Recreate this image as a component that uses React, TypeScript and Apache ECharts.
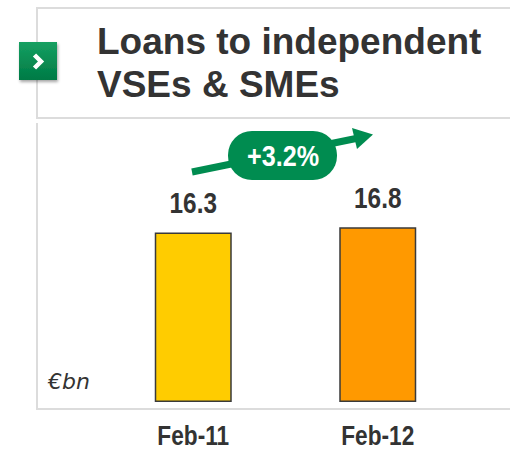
import React, { useEffect, useRef } from "react";
import * as echarts from "echarts";

const categories = ["Feb-11", "Feb-12"];
const loanValues = [16.3, 16.8];
const barColors = ["#FFCC00", "#FF9900"];
const growthLabel = "+3.2%";
const unitLabel = "€bn";
const titleLines = ["Loans to independent", "VSEs & SMEs"];

const SANS = "'Liberation Sans', Arial, sans-serif";
const NARROW_SCALE = 0.84;
const GREEN = "#008C50";
const TEXT = "#333333";

export default function App() {
  const ref = useRef<HTMLDivElement>(null);
  useEffect(() => {
    document.body.style.margin = "0";
    document.body.style.overflow = "hidden";
    if (!ref.current) return;
    const chart = echarts.init(ref.current, null, { renderer: "svg" });
    chart.setOption({
      animation: false,
      backgroundColor: "#ffffff",
      title: {
        text: titleLines.join("\n"),
        left: 97,
        top: 20,
        padding: 0,
        textStyle: {
          fontFamily: SANS,
          fontWeight: "bold",
          fontSize: 37,
          lineHeight: 43,
          color: TEXT,
        },
      },
      grid: { left: 101, right: 40, top: 194, bottom: 48 },
      xAxis: {
        type: "category",
        data: categories,
        axisLine: { show: false },
        axisTick: { show: false },
        axisLabel: { show: false },
      },
      yAxis: {
        type: "value",
        min: 0,
        max: 20,
        show: false,
        splitLine: { show: false },
      },
      series: [
        {
          type: "bar",
          barWidth: 77,
          data: loanValues.map((v, i) => ({
            value: v,
            itemStyle: { color: barColors[i] },
          })),
          itemStyle: { borderColor: "#3a3a3a", borderWidth: 1.5 },
        },
      ],
    });

    // narrow bold texts (value labels & category labels) placed through the chart's own scales
    const narrowTexts: any[] = [];
    categories.forEach((c, i) => {
      const top = chart.convertToPixel({ gridIndex: 0 }, [c, loanValues[i]]) as number[];
      const base = chart.convertToPixel({ gridIndex: 0 }, [c, 0]) as number[];
      narrowTexts.push({
        type: "text",
        x: top[0],
        y: top[1] - 29.5,
        scaleX: NARROW_SCALE,
        style: {
          text: loanValues[i].toFixed(1),
          fontFamily: SANS,
          fontWeight: "bold",
          fontSize: 29,
          fill: TEXT,
          align: "center",
          verticalAlign: "middle",
        },
      });
      narrowTexts.push({
        type: "text",
        x: base[0],
        y: base[1] + 33,
        scaleX: NARROW_SCALE,
        style: {
          text: c,
          fontFamily: SANS,
          fontWeight: "bold",
          fontSize: 27,
          fill: TEXT,
          align: "center",
          verticalAlign: "middle",
        },
      });
    });

    chart.setOption({
      graphic: [
        // title frame (open to the right)
        {
          type: "line",
          z: -1,
          shape: { x1: 36, y1: 8, x2: 510, y2: 8 },
          style: { stroke: "#dcdcdc", lineWidth: 2 },
        },
        {
          type: "line",
          z: -1,
          shape: { x1: 37, y1: 8, x2: 37, y2: 118 },
          style: { stroke: "#dcdcdc", lineWidth: 2 },
        },
        {
          type: "line",
          z: -1,
          shape: { x1: 36, y1: 118, x2: 510, y2: 118 },
          style: { stroke: "#dcdcdc", lineWidth: 2 },
        },
        // chart frame
        {
          type: "line",
          z: -1,
          shape: { x1: 37, y1: 123, x2: 37, y2: 409 },
          style: { stroke: "#dcdcdc", lineWidth: 2 },
        },
        {
          type: "line",
          z: -1,
          shape: { x1: 36, y1: 409, x2: 510, y2: 409 },
          style: { stroke: "#dcdcdc", lineWidth: 2 },
        },
        // icon
        {
          type: "rect",
          shape: { x: 19, y: 42, width: 38, height: 38 },
          style: {
            fill: new echarts.graphic.LinearGradient(0, 0, 0, 1, [
              { offset: 0, color: "#16a062" },
              { offset: 1, color: "#007a45" },
            ]),
            shadowBlur: 3,
            shadowOffsetX: 1,
            shadowOffsetY: 2,
            shadowColor: "rgba(0,0,0,0.35)",
          },
        },
        {
          type: "polyline",
          shape: { points: [[34.5, 55], [41, 61.5], [34.5, 68]] },
          style: { fill: "none", stroke: "#ffffff", lineWidth: 4.5, lineCap: "butt", lineJoin: "miter" },
        },
        // unit label
        {
          type: "text",
          x: 48,
          y: 381,
          style: {
            text: unitLabel,
            fontFamily: "'DejaVu Sans', sans-serif",
            fontStyle: "italic",
            fontSize: 22,
            fill: TEXT,
            verticalAlign: "middle",
          },
        },
        // growth arrow
        {
          type: "line",
          shape: { x1: 192, y1: 172, x2: 356, y2: 138.5 },
          style: { stroke: GREEN, lineWidth: 7 },
        },
        {
          type: "polygon",
          shape: { points: [[373, 134.5], [352, 128], [357, 149]] },
          style: { fill: GREEN },
        },
        {
          type: "rect",
          shape: { x: 228, y: 131, width: 109, height: 49, r: 24 },
          style: { fill: GREEN },
        },
        {
          type: "text",
          x: 283,
          y: 156,
          scaleX: NARROW_SCALE,
          style: {
            text: growthLabel,
            fontFamily: SANS,
            fontWeight: "bold",
            fontSize: 30,
            fill: "#ffffff",
            align: "center",
            verticalAlign: "middle",
          },
        },
        ...narrowTexts,
      ],
    });
    return () => chart.dispose();
  }, []);
  return <div ref={ref} style={{ width: 510, height: 450 }} />;
}
